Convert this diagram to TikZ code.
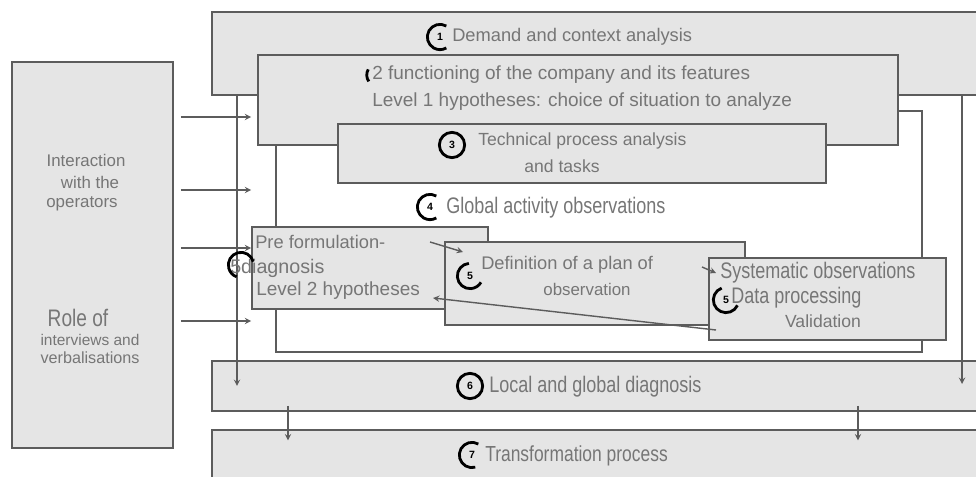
\documentclass[tikz,border=0pt]{standalone}
\usepackage{fontspec}
\setmainfont{Liberation Sans}
\newfontfamily\narrowsf{Liberation Sans}[FakeStretch=0.8]
\usetikzlibrary{fit}
\definecolor{boxfill}{RGB}{229,229,229}
\definecolor{boxline}{RGB}{92,92,92}
\definecolor{txtgray}{RGB}{118,118,118}
\tikzset{
  stagebox/.style={draw=boxline,fill=boxfill,line width=1.2pt,inner sep=0pt},
  framebox/.style={draw=boxline,fill=white,line width=1.2pt,inner sep=0pt},
  lbl/.style={text=txtgray,inner sep=0pt,anchor=west},
  ctr/.style={text=txtgray,inner sep=0pt},
  ring/.style={line width=2pt,black},
  numtxt/.style={font=\fontsize{7.5}{7.5}\selectfont\bfseries,inner sep=0pt},
  flow/.style={->,line width=1pt,boxline},
}
\newcommand\fs[1]{\fontsize{#1}{#1}\selectfont}
\begin{document}
\begin{tikzpicture}[x=0.025cm,y=-0.025cm,>=stealth]
	\useasboundingbox (0,0) rectangle (976,477);
	\clip (0,0) rectangle (976,477);
	\node[stagebox,fit={(12,62) (173,448)}] (roles) {};
	\node[stagebox,fit={(212,12) (1000,95)}] (b1) {};
	\node[framebox,fit={(276,111) (922,352)}] (b4) {};
	\node[stagebox,fit={(258,55) (898,145)}] (b2) {};
	\node[stagebox,fit={(338,124) (826,183)}] (b3) {};
	\node[stagebox,fit={(252,227) (488,309)}] (b5a) {};
	\node[stagebox,fit={(445,242) (745,325)}] (b5b) {};
	\node[stagebox,fit={(709,258) (946,340)}] (b5c) {};
	\node[stagebox,fit={(212,361) (1000,411)}] (b6) {};
	\node[stagebox,fit={(212,430) (1000,500)}] (b7) {};
	% links
	\coordinate (d1) at (237,386);
	\coordinate (d2) at (962,384);
	\draw[flow] (b1.south -| d1) -- (d1);
	\draw[flow] (b1.south -| d2) -- (d2);
	\foreach \y in {117,190,248,321}
		\draw[flow] (roles.east |- 0,\y) ++(7,0) -- (b5a.west |- 0,\y);
	\foreach \x in {288,858}
		\draw[flow] (b6.south -| \x,0) ++(0,-6) -- ([yshift=-8pt]b7.north -| \x,0);
	\coordinate (pf) at (430,242);
	\coordinate (dp) at (463,252);
	\coordinate (ds) at (702,267);
	\coordinate (so) at (716,273);
	\coordinate (va) at (716,330);
	\coordinate (lh) at (433,298);
	\draw[flow] (pf) -- (dp);
	\draw[flow] (ds) -- (so);
	\draw[flow] (va) -- (lh);
	% texts
	\node[ctr,font=\fs{12}] (t1) at (86,160) {Interaction};
	\node[ctr,font=\fs{12}] (t2) at (90,182) {with the};
	\node[ctr,font=\fs{12}] (t3) at (82,204) {operators};
	\node[ctr,font=\narrowsf\fs{17}] (t4) at (78,318) {Role of};
	\node[ctr,font=\fs{11}] (t5) at (90,340) {interviews and};
	\node[ctr,font=\fs{11.5}] (t6) at (90,358) {verbalisations};
	\node[lbl,font=\fs{13}] (s1) at (452,37) {Demand and context analysis};
	\node[lbl,font=\fs{13.5}] (s2) at (372,75) {2 functioning of the company and its features};
	\node[lbl,font=\fs{13.5}] (s2b) at (372,102) {Level 1 hypotheses: choice of situation to analyze};
	\node[lbl,font=\fs{12.5}] (s3) at (478,141) {Technical process analysis};
	\node[ctr,font=\fs{12.5}] (s3b) at (562,166) {and tasks};
	\node[lbl,font=\narrowsf\fs{16}] (s4) at (446,208) {Global activity observations};
	\node[lbl,font=\fs{13}] (s5a) at (255,242) {Pre formulation-};
	\node[lbl,font=\fs{14}] (s5b) at (230,268) {5diagnosis};
	\node[lbl,font=\fs{13.5}] (s5c) at (256,291) {Level 2 hypotheses};
	\node[lbl,font=\fs{13}] (s5d) at (481,265) {Definition of a plan of};
	\node[ctr,font=\fs{12}] (s5e) at (587,289) {observation};
	\node[lbl,font=\narrowsf\fs{16}] (s5f) at (720,273) {Systematic observations};
	\node[lbl,font=\narrowsf\fs{16}] (s5g) at (731,298) {Data processing};
	\node[ctr,font=\fs{12.5}] (s5h) at (823,321) {Validation};
	\node[lbl,font=\narrowsf\fs{16}] (s6) at (489,387) {Local and global diagnosis};
	\node[lbl,font=\narrowsf\fs{15.5}] (s7) at (485,456) {Transformation process};
	% numbers
	\node[numtxt] (n1) at (440,37) {1};
	\draw[ring] (n1.center) ++(60:9pt) arc[start angle=60,end angle=300,radius=9pt];
	\coordinate (n2) at (378,75);
	\draw[ring] (n2) ++(150:8pt) arc[start angle=150,end angle=215,radius=8pt];
	\node[numtxt] (n3) at (452,145) {3};
	\draw[ring] (n3) circle[radius=9pt];
	\node[numtxt] (n4) at (430,207) {4};
	\draw[ring] (n4.center) ++(60:9pt) arc[start angle=60,end angle=300,radius=9pt];
	\coordinate (n5a) at (241,265);
	\draw[ring] (n5a) ++(15:9pt) arc[start angle=15,end angle=250,radius=9pt];
	\node[numtxt] (n5b) at (470,276) {5};
	\draw[ring] (n5b.center) ++(95:9pt) arc[start angle=95,end angle=330,radius=9pt];
	\node[numtxt] (n5c) at (726,300) {5};
	\draw[ring] (n5c.center) ++(110:9pt) arc[start angle=110,end angle=335,radius=9pt];
	\node[numtxt] (n6) at (470,386) {6};
	\draw[ring] (n6) circle[radius=9pt];
	\node[numtxt] (n7) at (472,455) {7};
	\draw[ring] (n7.center) ++(60:9pt) arc[start angle=60,end angle=285,radius=9pt];
\end{tikzpicture}
\end{document}
